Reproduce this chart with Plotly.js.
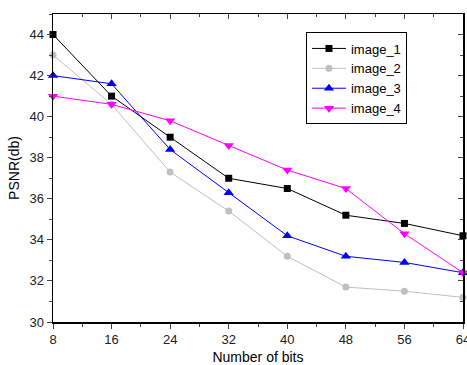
<!DOCTYPE html>
<html><head><meta charset="utf-8">
<script src="https://cdn.plot.ly/plotly-3.0.1.min.js"></script>
<style>html,body{margin:0;padding:0;background:#fff;}#c{width:467px;height:365px;}</style>
</head><body><div id="c"></div>
<script>
const bits = [8, 16, 24, 32, 40, 48, 56, 64];
const image1 = [44, 41, 39, 37, 36.5, 35.2, 34.8, 34.2];
const image2 = [43, 40.6, 37.3, 35.4, 33.2, 31.7, 31.5, 31.2];
const image3 = [42, 41.6, 38.4, 36.3, 34.2, 33.2, 32.9, 32.4];
const image4 = [41, 40.6, 39.8, 38.6, 37.4, 36.5, 34.3, 32.4];
const names = ['image_1', 'image_2', 'image_3', 'image_4'];
const yticks = [30, 32, 34, 36, 38, 40, 42, 44];

const styles = [
  {color: '#000000', symbol: 'square', size: 7},
  {color: '#c0c0c0', symbol: 'circle', size: 7},
  {color: '#0000ff', symbol: 'triangle-up', size: 9},
  {color: '#ff00ff', symbol: 'triangle-down', size: 9}
];
const series = [image1, image2, image3, image4];
const traces = series.map((s, i) => ({
  x: bits, y: s, name: names[i], type: 'scatter', mode: 'lines+markers',
  line: {color: styles[i].color, width: 1},
  marker: {color: styles[i].color, symbol: styles[i].symbol, size: styles[i].size},
  cliponaxis: false
}));
const fam = 'Liberation Sans, Arial, sans-serif';
const font = {family: fam, size: 13, color: '#222'};
const layout = {
  width: 467, height: 365,
  margin: {l: 53, r: 4, t: 14, b: 43},
  paper_bgcolor: '#fff', plot_bgcolor: '#fff',
  font: font,
  showlegend: true,
  legend: {x: 0.617, y: 0.94, xanchor: 'left', yanchor: 'top', bordercolor: '#000', borderwidth: 1,
           bgcolor: '#fff', font: {family: fam, size: 13, color: '#000'}, tracegroupgap: 0, itemwidth: 34},
  xaxis: {range: [8, 64], tickvals: bits, ticktext: bits.map(String), ticks: 'outside', ticklen: 5, tickwidth: 1,
          ticklabeloverflow: 'allow',
          minor: {dtick: 4, tick0: 0, ticks: 'outside', ticklen: 3}, showgrid: false, zeroline: false,
          showline: true, linecolor: '#000', linewidth: 1.5,
          title: {text: 'Number of bits', font: {size: 14, color: '#000'}, standoff: 8}},
  yaxis: {range: [30, 45], tickvals: yticks, ticks: 'outside', ticklen: 5, tickwidth: 1,
          minor: {dtick: 1, ticks: 'outside', ticklen: 3}, showgrid: false, zeroline: false,
          showline: true, linecolor: '#000', linewidth: 1.5,
          title: {text: 'PSNR(db)', font: {size: 14, color: '#000'}, standoff: 6}},
  xaxis2: {overlaying: 'x', side: 'top', range: [8, 64], tickvals: bits, ticks: 'inside', ticklen: 5,
           showticklabels: false, minor: {dtick: 4, ticks: 'inside', ticklen: 3}, showgrid: false, zeroline: false,
           showline: true, linecolor: '#000', linewidth: 1.5},
  yaxis2: {overlaying: 'y', side: 'right', range: [30, 45], tickvals: yticks, ticks: 'inside', ticklen: 5,
           showticklabels: false, minor: {dtick: 1, ticks: 'inside', ticklen: 3}, showgrid: false, zeroline: false,
           showline: true, linecolor: '#000', linewidth: 1.5}
};
traces.push({x: [8], y: [30], xaxis: 'x2', yaxis: 'y2', mode: 'markers', marker: {opacity: 0}, showlegend: false, hoverinfo: 'skip'});
Plotly.newPlot('c', traces, layout, {staticPlot: true});
</script></body></html>
